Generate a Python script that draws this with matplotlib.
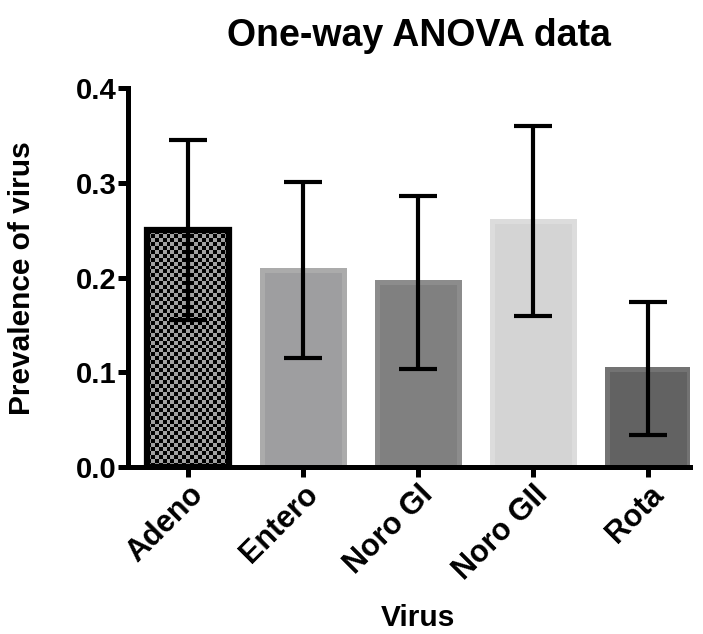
import numpy as np
import matplotlib.pyplot as plt

plt.rcParams['font.family'] = ['Liberation Sans', 'DejaVu Sans']
plt.rcParams['font.weight'] = 'bold'

viruses = ["Adeno", "Entero", "Noro GI", "Noro GII", "Rota"]
prevalence = [0.250, 0.208, 0.195, 0.260, 0.104]
sd_err = [0.095, 0.093, 0.091, 0.100, 0.070]
fill_colors = ["#a0a0a0", "#9e9ea0", "#808080", "#d4d4d4", "#626262"]
edge_colors = ["black", "#ababab", "#8c8c8c", "#dcdcdc", "#737373"]

fig = plt.figure(figsize=(7.03, 6.34), dpi=100)
ax = fig.add_axes([0.182, 0.263, 0.799, 0.598])

x = np.arange(len(viruses))
width = 0.71
bars = ax.bar(x, prevalence, width=width, color=fill_colors,
              edgecolor=edge_colors, linewidth=3.6, zorder=2)

# checkerboard fill for the first bar, clipped to its outline
b = bars[0]
checker = np.indices((60, 21)).sum(axis=0) % 2
img = ax.imshow(checker, cmap="gray", vmin=0, vmax=1.6,
                extent=[b.get_x(), b.get_x() + b.get_width(), 0, b.get_height()],
                aspect="auto", interpolation="nearest", zorder=2.5)
img.set_clip_path(b)
bars[0].set_facecolor("none")
bars[0].set_linewidth(4.5)
bars[0].set_zorder(3)

ax.errorbar(x, prevalence, yerr=sd_err, fmt="none", ecolor="black",
            elinewidth=3, capsize=14, capthick=3, zorder=4)

ax.set_xlim(-0.52, 4.36)
ax.set_ylim(0, 0.4)
ax.set_yticks([0.0, 0.1, 0.2, 0.3, 0.4])
ax.set_yticklabels(["0.0", "0.1", "0.2", "0.3", "0.4"])
ax.set_xticks(x)
ax.set_xticklabels(viruses, rotation=45, ha="right", rotation_mode="anchor")

for side in ["top", "right"]:
    ax.spines[side].set_visible(False)
for side in ["left", "bottom"]:
    ax.spines[side].set_linewidth(3.6)
ax.tick_params(width=3.6, length=7, labelsize=21, pad=1)
ax.tick_params(axis="x", labelsize=22, pad=2)

ax.set_title("One-way ANOVA data", fontsize=27, fontweight="bold", pad=30, x=0.518)
ax.set_ylabel("Prevalence of virus", fontsize=21.5, fontweight="bold")
ax.yaxis.set_label_coords(-0.164, 0.5)
ax.set_xlabel("Virus", fontsize=21.5, fontweight="bold", labelpad=13, x=0.516)

fig.savefig("out.png", dpi=100)
